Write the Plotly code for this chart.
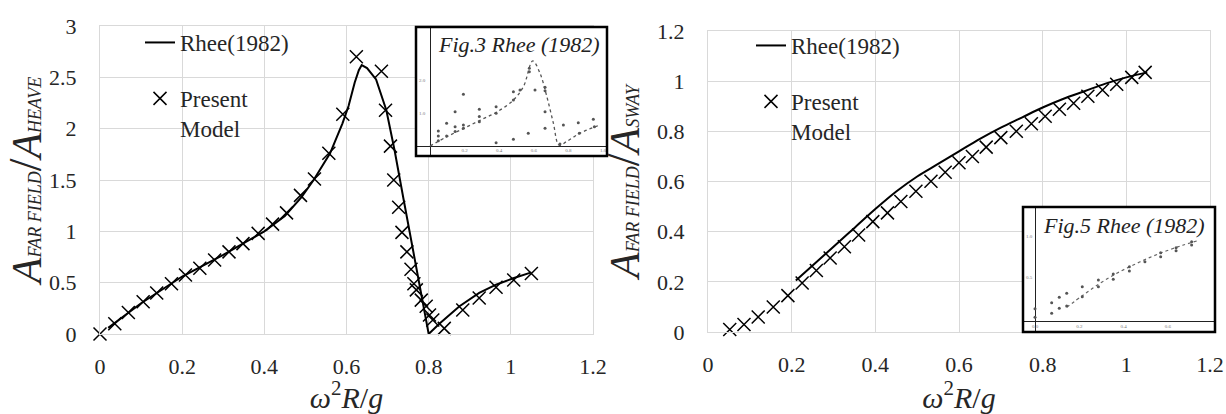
import plotly.graph_objects as go

W, H = 1226, 414

# ---------------- data: heave (left panel) ----------------
heave_rhee_x = [0.02, 0.10, 0.20, 0.30, 0.40, 0.45, 0.49, 0.52, 0.56, 0.59, 0.605, 0.62, 0.63, 0.637,
                0.65, 0.672, 0.697, 0.717, 0.739, 0.77, 0.80, 0.826, 0.875, 0.923, 0.964, 1.004, 1.05]
heave_rhee_y = [0.06, 0.30, 0.56, 0.77, 1.00, 1.15, 1.33, 1.50, 1.76, 2.05, 2.22, 2.45, 2.57, 2.62,
                2.59, 2.48, 2.18, 1.79, 1.31, 0.65, 0.0, 0.10, 0.27, 0.40, 0.48, 0.54, 0.60]
heave_model_x = [0, 0.036, 0.069, 0.105, 0.138, 0.174, 0.208, 0.243, 0.279, 0.314, 0.348, 0.385, 0.42,
                 0.454, 0.488, 0.522, 0.557, 0.591, 0.624, 0.685, 0.695, 0.707, 0.715, 0.727, 0.735,
                 0.747, 0.757, 0.764, 0.77, 0.782, 0.794, 0.802, 0.81, 0.838, 0.883, 0.923, 0.964,
                 1.007, 1.05]
heave_model_y = [0, 0.10, 0.21, 0.315, 0.40, 0.49, 0.575, 0.64, 0.72, 0.80, 0.88, 0.98, 1.07,
                 1.18, 1.35, 1.51, 1.76, 2.14, 2.70, 2.56, 2.18, 1.83, 1.50, 1.235, 0.99,
                 0.80, 0.63, 0.49, 0.43, 0.33, 0.27, 0.185, 0.136, 0.055, 0.234, 0.35, 0.455,
                 0.526, 0.59]

# ---------------- data: sway (right panel) ----------------
sway_rhee_x = [0.21, 0.26, 0.30, 0.35, 0.40, 0.45, 0.50, 0.55, 0.60, 0.65, 0.70, 0.75, 0.80, 0.85,
               0.90, 0.95, 1.00, 1.05]
sway_rhee_y = [0.205, 0.28, 0.34, 0.415, 0.49, 0.56, 0.62, 0.67, 0.72, 0.77, 0.815, 0.855, 0.895,
               0.93, 0.96, 0.99, 1.015, 1.035]
sway_model_x = [0.052, 0.086, 0.12, 0.156, 0.191, 0.225, 0.259, 0.292, 0.326, 0.36, 0.394, 0.429,
                0.461, 0.497, 0.533, 0.567, 0.60, 0.632, 0.665, 0.70, 0.737, 0.773, 0.806, 0.840,
                0.874, 0.908, 0.943, 0.977, 1.013, 1.045]
sway_model_y = [0.01, 0.03, 0.06, 0.10, 0.145, 0.195, 0.245, 0.295, 0.34, 0.387, 0.44, 0.475,
                0.52, 0.561, 0.601, 0.637, 0.675, 0.70, 0.737, 0.775, 0.80, 0.83, 0.86, 0.888,
                0.912, 0.94, 0.965, 0.988, 1.015, 1.035]

# ---------------- data: inset Fig.3 Rhee (1982) (normalised inset units) ----------------
fig3_curve_x = [0, 0.096, 0.193, 0.289, 0.386, 0.482, 0.54, 0.594, 0.636, 0.675, 0.713, 0.746,
                0.79, 0.867, 0.983]
fig3_curve_y = [0.01, 0.11, 0.2, 0.29, 0.38, 0.51, 0.656, 0.935, 0.80, 0.55, 0.26, 0.02,
                0.06, 0.15, 0.24]
fig3_pts_x = [0.048, 0.048, 0.048, 0.096, 0.096, 0.145, 0.145, 0.145, 0.193, 0.193, 0.193, 0.285,
              0.285, 0.285, 0.382, 0.382, 0.382, 0.482, 0.482, 0.482, 0.52, 0.568, 0.574, 0.574,
              0.607, 0.665, 0.665, 0.665, 0.665, 0.751, 0.771, 0.857, 0.863, 0.944, 0.95]
fig3_pts_y = [0.174, 0.12, 0.069, 0.257, 0.12, 0.384, 0.221, 0.167, 0.573, 0.239, 0.203, 0.41,
              0.33, 0.275, 0.438, 0.366, 0.047, 0.601, 0.511, 0.084, 0.62, 0.149, 0.855, 0.819,
              0.62, 0.649, 0.612, 0.384, 0.203, 0.033, 0.239, 0.264, 0.149, 0.301, 0.221]
fig3_xtick_vals = [0.2, 0.4, 0.6, 0.8, 1.0]
fig3_xtick_text = ["0.2", "0.4", "0.6", "0.8", "1.0"]
fig3_ytick_vals = [0.37, 0.73]
fig3_ytick_text = ["1.0", "2.0"]

# ---------------- data: inset Fig.5 Rhee (1982) (normalised inset units) ----------------
fig5_curve_x = [0.179, 0.273, 0.367, 0.462, 0.555, 0.65, 0.744, 0.838, 0.919]
fig5_curve_y = [0.131, 0.243, 0.349, 0.44, 0.515, 0.585, 0.645, 0.697, 0.736]
fig5_pts_x = [0.0, 0.0, 0.094, 0.094, 0.137, 0.137, 0.179, 0.179, 0.267, 0.267, 0.358, 0.358,
              0.442, 0.442, 0.533, 0.533, 0.621, 0.71, 0.71, 0.797, 0.797, 0.885, 0.885]
fig5_pts_y = [0.118, 0.04, 0.173, 0.076, 0.222, 0.122, 0.258, 0.143, 0.318, 0.227, 0.379, 0.318,
              0.434, 0.385, 0.5, 0.461, 0.545, 0.627, 0.591, 0.673, 0.645, 0.727, 0.697]
fig5_xtick_vals = [0.0, 0.25, 0.5, 0.75, 1.0]
fig5_xtick_text = ["0.0", "0.2", "0.4", "0.6", "0.8"]
fig5_ytick_vals = [0.4, 0.78]
fig5_ytick_text = ["0.5", "1.0"]

# ---------------- ticks / labels ----------------
x_ticks = [0, 0.2, 0.4, 0.6, 0.8, 1.0, 1.2]
heave_y_ticks = [0, 0.5, 1, 1.5, 2, 2.5, 3]
sway_y_ticks = [0, 0.2, 0.4, 0.6, 0.8, 1.0, 1.2]

FONT = "Liberation Serif"
GRID = "#d9d9d9"
TXT = "#262626"


def fx(px):
    return px / W


def fy(py):
    return (H - py) / H


x_title = "<i>ω</i><sup>2</sup><i>R</i>/<i>g</i>"
sub = '<span style="font-size:18px"><i>{}</i></span>'
slash = '<span style="font-size:46px">/</span>'
y_title_heave = "<i>A</i>" + sub.format("FAR FIELD") + slash + "<i>A</i>" + sub.format("HEAVE")
y_title_sway = "<i>A</i>" + sub.format("FAR FIELD") + slash + "<i>A</i>" + sub.format("SWAY")

fig = go.Figure()

model_marker = dict(symbol="x-thin", size=13, color="black", line=dict(color="black", width=1.5))

# main left
fig.add_trace(go.Scatter(x=heave_rhee_x, y=heave_rhee_y, mode="lines", name="Rhee(1982)",
                         line=dict(color="black", width=2), xaxis="x", yaxis="y",
                         legend="legend", legendgroup="a"))
fig.add_trace(go.Scatter(x=heave_model_x, y=heave_model_y, mode="markers", name="Present<br>Model",
                         marker=model_marker, cliponaxis=False,
                         xaxis="x", yaxis="y", legend="legend", legendgroup="b"))
# main right
fig.add_trace(go.Scatter(x=sway_rhee_x, y=sway_rhee_y, mode="lines", name="Rhee(1982)",
                         line=dict(color="black", width=2, shape="spline"), xaxis="x2", yaxis="y2",
                         legend="legend2", legendgroup="c"))
fig.add_trace(go.Scatter(x=sway_model_x, y=sway_model_y, mode="markers", name="Present<br>Model",
                         marker=model_marker, cliponaxis=False,
                         xaxis="x2", yaxis="y2", legend="legend2", legendgroup="d"))
# inset 1
fig.add_trace(go.Scatter(x=fig3_curve_x, y=fig3_curve_y, mode="lines", showlegend=False,
                         line=dict(color="#555", width=1.3, dash="dot", shape="spline"),
                         xaxis="x3", yaxis="y3"))
fig.add_trace(go.Scatter(x=fig3_pts_x, y=fig3_pts_y, mode="markers", showlegend=False,
                         marker=dict(size=3, color="#555"), xaxis="x3", yaxis="y3"))
# inset 2
fig.add_trace(go.Scatter(x=fig5_curve_x, y=fig5_curve_y, mode="lines", showlegend=False,
                         line=dict(color="#666", width=1.2, dash="dot", shape="spline"),
                         xaxis="x4", yaxis="y4"))
fig.add_trace(go.Scatter(x=fig5_pts_x, y=fig5_pts_y, mode="markers", showlegend=False,
                         marker=dict(size=3, color="#555"), xaxis="x4", yaxis="y4"))

main_axis = dict(showgrid=True, gridcolor=GRID, gridwidth=1.3, showline=True, linecolor=GRID,
                 linewidth=1.3, mirror=True, zeroline=False, automargin=False,
                 ticks="outside", tickcolor="rgba(0,0,0,0)",
                 tickfont=dict(family=FONT, size=22, color=TXT))

inset_axis = dict(showgrid=False, zeroline=True, zerolinecolor="#222", zerolinewidth=1,
                  showline=False, automargin=False, ticklabelposition="inside",
                  tickfont=dict(family=FONT, size=5, color="#777"))

fig.update_layout(
    width=W, height=H, autosize=False,
    margin=dict(l=0, r=0, t=0, b=0),
    paper_bgcolor="white", plot_bgcolor="white",
    font=dict(family=FONT, color=TXT),
    xaxis=dict(main_axis, domain=[fx(100), fx(593)], range=[0, 1.2], tickvals=x_ticks,
               ticklen=12, anchor="y",
               title=dict(text=x_title, font=dict(family=FONT, size=30, color=TXT), standoff=5)),
    yaxis=dict(main_axis, domain=[fy(334), fy(26)], range=[0, 3], tickvals=heave_y_ticks,
               ticklen=18, anchor="x",
               title=dict(text=y_title_heave, font=dict(family=FONT, size=42, color=TXT), standoff=4)),
    xaxis2=dict(main_axis, domain=[fx(708), fx(1210)], range=[0, 1.2], tickvals=x_ticks,
                ticklen=12, anchor="y2",
                title=dict(text=x_title, font=dict(family=FONT, size=30, color=TXT), standoff=5)),
    yaxis2=dict(main_axis, domain=[fy(332), fy(31)], range=[0, 1.2], tickvals=sway_y_ticks,
                ticklen=18, anchor="x2",
                title=dict(text=y_title_sway, font=dict(family=FONT, size=42, color=TXT), standoff=4)),
    xaxis3=dict(inset_axis, domain=[fx(416), fx(607)], range=[-0.081, 1.023], anchor="y3",
                tickvals=fig3_xtick_vals, ticktext=fig3_xtick_text),
    yaxis3=dict(inset_axis, domain=[fy(156), fy(27)], range=[-0.098, 1.304], anchor="x3",
                tickvals=fig3_ytick_vals, ticktext=fig3_ytick_text),
    xaxis4=dict(inset_axis, domain=[fx(1023), fx(1215)], range=[-0.068, 1.017], anchor="y4",
                tickvals=fig5_xtick_vals, ticktext=fig5_xtick_text),
    yaxis4=dict(inset_axis, domain=[fy(332), fy(207)], range=[-0.094, 1.043], anchor="x4",
                tickvals=fig5_ytick_vals, ticktext=fig5_ytick_text),
    legend=dict(x=fx(140), y=fy(21), xanchor="left", yanchor="top", bgcolor="rgba(0,0,0,0)",
                font=dict(family=FONT, size=23, color=TXT), traceorder="grouped",
                tracegroupgap=23, valign="top"),
    legend2=dict(x=fx(751), y=fy(24), xanchor="left", yanchor="top", bgcolor="rgba(0,0,0,0)",
                 font=dict(family=FONT, size=23, color=TXT), traceorder="grouped",
                 tracegroupgap=23, valign="top"),
    shapes=[
        dict(type="rect", xref="x3", yref="y3", x0=-0.081, x1=1.023, y0=-0.098, y1=1.304,
             fillcolor="white", line=dict(width=0), layer="below"),
        dict(type="rect", xref="x4", yref="y4", x0=-0.068, x1=1.017, y0=-0.094, y1=1.043,
             fillcolor="white", line=dict(width=0), layer="below"),
        dict(type="rect", xref="paper", yref="paper", x0=fx(416), x1=fx(607), y0=fy(156), y1=fy(27),
             line=dict(color="black", width=2.5), layer="above"),
        dict(type="rect", xref="paper", yref="paper", x0=fx(1023), x1=fx(1215), y0=fy(332), y1=fy(207),
             line=dict(color="black", width=2.5), layer="above"),
    ],
    annotations=[
        dict(text="<i>Fig.3 Rhee (1982)</i>", xref="paper", yref="paper", x=fx(519), y=fy(44),
             xanchor="center", yanchor="middle", showarrow=False,
             font=dict(family=FONT, size=22, color="#222")),
        dict(text="<i>Fig.5 Rhee (1982)</i>", xref="paper", yref="paper", x=fx(1124), y=fy(225),
             xanchor="center", yanchor="middle", showarrow=False,
             font=dict(family=FONT, size=22, color="#222")),
    ],
)

fig.write_html("out.html")
